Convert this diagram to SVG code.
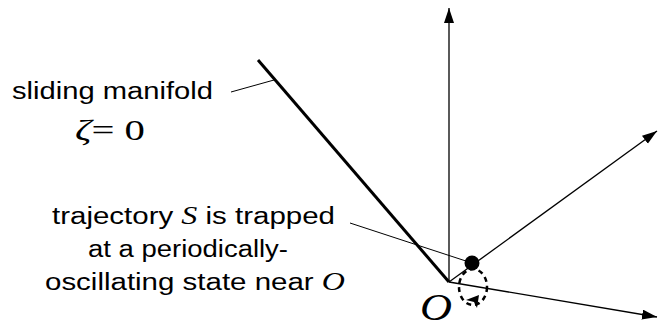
<svg xmlns="http://www.w3.org/2000/svg" width="658" height="327" viewBox="0 0 658 327">
<style>
.ax{stroke:#000;stroke-width:1.3;fill:none}
.ld{stroke:#000;stroke-width:1;fill:none}
.t{font-family:"Liberation Sans",Arial,sans-serif;font-size:23px;fill:#000}
.m{font-family:"Liberation Serif","Times New Roman",serif;font-style:italic;fill:#000}
.r{font-family:"Liberation Serif","Times New Roman",serif;fill:#000}
</style>
<defs>
<marker id="ah" markerUnits="userSpaceOnUse" markerWidth="16" markerHeight="11" refX="15" refY="5" orient="auto" viewBox="0 0 16 11">
<path d="M0,0 L15,5 L0,10 Z" fill="#000"/>
</marker>
</defs>
<rect width="658" height="327" fill="#fff"/>
<g id="connectors">
<line class="ax" x1="449" y1="282" x2="449" y2="8" marker-end="url(#ah)"/>
<line class="ax" x1="449" y1="282" x2="657" y2="131" marker-end="url(#ah)"/>
<line class="ax" x1="449" y1="282" x2="657" y2="317" marker-end="url(#ah)"/>
<line class="ld" x1="231" y1="92" x2="274" y2="80"/>
<line class="ld" x1="350" y1="223" x2="472" y2="263"/>
</g>
<g id="manifold">
<line x1="258" y1="60" x2="449" y2="282" stroke="#000" stroke-width="3"/>
</g>
<g id="trajectory">
<circle cx="472" cy="263" r="7.5" fill="#000"/>
<ellipse cx="473" cy="287" rx="14" ry="18" fill="none" stroke="#000" stroke-width="2.5" stroke-dasharray="5,4"/>
<polygon points="466,300 479,295 477,308 474,302" fill="#000"/>
</g>
<g id="label-manifold">
<text class="t" x="12" y="99" textLength="201" lengthAdjust="spacingAndGlyphs">sliding manifold</text>
<text x="75" y="140" font-size="30" textLength="70" lengthAdjust="spacingAndGlyphs"><tspan class="m">ζ</tspan><tspan class="r">= 0</tspan></text>
</g>
<g id="label-trajectory">
<text class="t" x="52" y="224" textLength="283" lengthAdjust="spacingAndGlyphs">trajectory <tspan class="m" font-size="25">S</tspan> is trapped</text>
<text class="t" x="88" y="257" textLength="200" lengthAdjust="spacingAndGlyphs">at a periodically-</text>
<text class="t" x="45" y="290" textLength="300" lengthAdjust="spacingAndGlyphs">oscillating state near <tspan class="m" font-size="25">O</tspan></text>
</g>
<g id="origin">
<text class="m" x="420" y="320" font-size="37" textLength="32" lengthAdjust="spacingAndGlyphs">O</text>
</g>
</svg>
